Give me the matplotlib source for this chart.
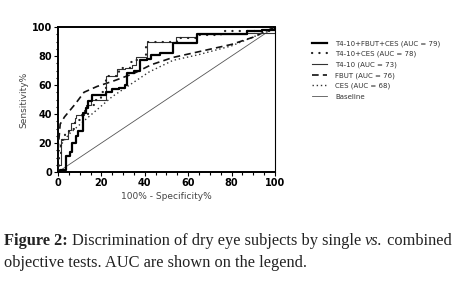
import matplotlib.pyplot as plt
from matplotlib.ticker import MultipleLocator

# ROC curves (x = 100% - specificity, y = sensitivity)
combo_all_x = [0, 0.8, 3.8, 5.5, 6.6, 8.2, 9.4, 11.5, 12.7, 14, 15.5, 22, 25, 28, 31, 32, 35, 38, 41, 43, 47, 53, 64, 87, 94, 100]
combo_all_y = [0, 1.5, 11, 14, 20, 25, 28, 41, 44, 49, 53, 55, 57, 58, 60, 68, 70, 77, 78, 81, 82, 89, 95, 97, 98, 100]

combo_ces_x = [0, 0.5, 1.5, 3, 5, 8, 11, 14, 17, 20, 22, 28, 33, 36, 40.5, 55, 64, 75, 100]
combo_ces_y = [0, 10, 22, 26, 30, 36, 40, 46, 50, 55, 66, 72, 76, 77, 90, 92.5, 94.5, 97, 100]

t410_x = [0, 1.5, 4.6, 6.1, 7.7, 8.5, 12, 13, 15, 22, 27, 31, 34, 36, 41, 54.5, 64, 87, 100]
t410_y = [5, 23, 29, 34, 37, 39, 43, 46, 50, 66, 71, 72, 74, 79, 90, 93, 95, 96, 100]

fbut_x = [0, 0, 1, 3, 8, 12, 18, 26, 35, 43, 53, 65, 80, 90, 100]
fbut_y = [0, 15, 33, 38, 47, 55, 59, 63, 68, 74, 79, 83, 88, 93, 100]

ces_x = [0, 0, 1.5, 5, 11, 18, 25, 34, 42, 53, 65, 80, 93, 100]
ces_y = [0, 12, 19, 26, 34, 43, 52, 61, 69, 77, 81, 87, 95, 100]

base_x = [0, 100]
base_y = [0, 100]

labels = [
    "T4-10+FBUT+CES (AUC = 79)",
    "T4-10+CES (AUC = 78)",
    "T4-10 (AUC = 73)",
    "FBUT (AUC = 76)",
    "CES (AUC = 68)",
    "Baseline",
]

fig = plt.figure(figsize=(4.54, 2.89), dpi=100)
ax = fig.add_axes([58 / 454, 1 - 172 / 289, 217 / 454, 145 / 289])

ax.plot(base_x, base_y, color="#555555", lw=0.6, label=labels[5], zorder=1)
ax.plot(ces_x, ces_y, color="#333333", lw=1.0, ls=(0, (1, 2)), label=labels[4], zorder=2)
ax.plot(fbut_x, fbut_y, color="#111111", lw=1.2, ls=(0, (4, 2.5)), label=labels[3], zorder=3)
ax.plot(t410_x, t410_y, color="#333333", lw=0.8, drawstyle="steps-post", label=labels[2], zorder=4)
ax.plot(combo_ces_x, combo_ces_y, color="#222222", lw=1.6, ls=(0, (0.1, 3.2)),
        dash_capstyle="round", drawstyle="steps-post", label=labels[1], zorder=5)
ax.plot(combo_all_x, combo_all_y, color="black", lw=1.6, drawstyle="steps-post",
        label=labels[0], zorder=6)

ax.set_xlim(0, 100)
ax.set_ylim(0, 100)
ax.xaxis.set_major_locator(MultipleLocator(20))
ax.yaxis.set_major_locator(MultipleLocator(20))
ax.xaxis.set_minor_locator(MultipleLocator(5))
ax.yaxis.set_minor_locator(MultipleLocator(5))
ax.tick_params(which="both", direction="out", labelsize=7, width=0.8)
ax.tick_params(which="major", length=3, pad=1.5)
ax.tick_params(which="minor", length=1.8)
for lab in ax.get_xticklabels() + ax.get_yticklabels():
    lab.set_fontweight("bold")
for side in ["left", "bottom", "top"]:
    ax.spines[side].set_linewidth(1.4)
ax.spines["right"].set_linewidth(0.8)

ax.set_xlabel("100% - Specificity%", fontsize=6.5, color="#444444", labelpad=3)
ax.set_ylabel("Sensitivity%", fontsize=6.5, color="#444444", labelpad=2)

handles, labs = ax.get_legend_handles_labels()
order = [labs.index(l) for l in labels]
fig.legend([handles[i] for i in order], [labs[i] for i in order],
           loc="upper left", bbox_to_anchor=(306 / 454, 1 - 34 / 289),
           frameon=False, fontsize=5.0, handlelength=2.1, handletextpad=1.2,
           labelspacing=0.6, labelcolor="#333333")

# caption with mixed styles
fig.canvas.draw()
renderer = fig.canvas.get_renderer()


def put_run(parts, x0, y):
    x = x0
    for txt, kw in parts:
        t = fig.text(x, y, txt, fontsize=11.8, family="Liberation Serif",
                     color="#222222", va="baseline", **kw)
        bb = t.get_window_extent(renderer)
        x += bb.width / fig.bbox.width


put_run([("Figure 2: ", {"fontweight": "bold"}),
         ("Discrimination of dry eye subjects by single ", {}),
         ("vs.", {"style": "italic"}),
         (" combined", {})], 4 / 454, 1 - 245 / 289)
put_run([("objective tests. AUC are shown on the legend.", {})], 4 / 454, 1 - 267 / 289)

fig.savefig("out.png", dpi=100)
